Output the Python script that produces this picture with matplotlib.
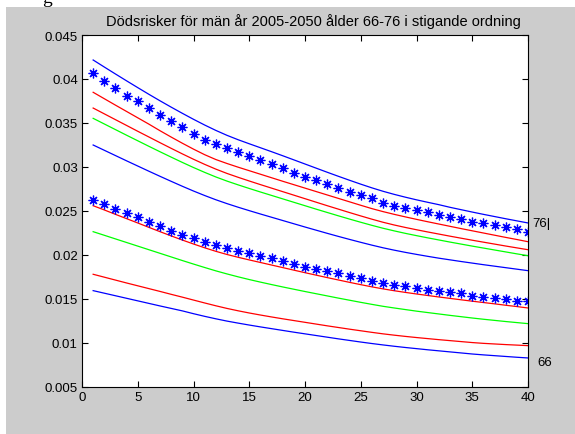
import matplotlib
matplotlib.use("Agg")
import matplotlib.pyplot as plt

# x = år-index 1..40
years = list(range(1, 41))

# ålder 66 (blå, nederst)
age66 = [0.01595, 0.01566, 0.01537, 0.01508, 0.01479, 0.01450, 0.01421, 0.01393, 0.01365, 0.01333,
         0.01303, 0.01275, 0.01249, 0.01226, 0.01204, 0.01183, 0.01163, 0.01143, 0.01123, 0.01104,
         0.01085, 0.01066, 0.01047, 0.01029, 0.01011, 0.00994, 0.00978, 0.00963, 0.00949, 0.00936,
         0.00923, 0.00911, 0.00899, 0.00887, 0.00875, 0.00865, 0.00856, 0.00847, 0.00838, 0.00830]
age67 = [0.01781, 0.01748, 0.01715, 0.01682, 0.01650, 0.01618, 0.01586, 0.01553, 0.01521, 0.01488,
         0.01455, 0.01423, 0.01393, 0.01366, 0.01341, 0.01318, 0.01296, 0.01275, 0.01255, 0.01235,
         0.01215, 0.01195, 0.01176, 0.01157, 0.01139, 0.01121, 0.01104, 0.01089, 0.01075, 0.01062,
         0.01050, 0.01038, 0.01027, 0.01016, 0.01005, 0.00996, 0.00989, 0.00982, 0.00976, 0.00970]
age68 = [0.02265, 0.02224, 0.02183, 0.02142, 0.02101, 0.02060, 0.02019, 0.01978, 0.01937, 0.01897,
         0.01858, 0.01820, 0.01785, 0.01752, 0.01721, 0.01692, 0.01664, 0.01637, 0.01611, 0.01585,
         0.01560, 0.01535, 0.01510, 0.01486, 0.01462, 0.01439, 0.01417, 0.01398, 0.01380, 0.01362,
         0.01346, 0.01330, 0.01314, 0.01299, 0.01284, 0.01270, 0.01257, 0.01244, 0.01232, 0.01220]
age69 = [0.02560, 0.02512, 0.02462, 0.02413, 0.02364, 0.02314, 0.02265, 0.02217, 0.02170, 0.02125,
         0.02082, 0.02042, 0.02006, 0.01974, 0.01944, 0.01915, 0.01886, 0.01857, 0.01828, 0.01799,
         0.01771, 0.01743, 0.01716, 0.01689, 0.01663, 0.01638, 0.01615, 0.01594, 0.01575, 0.01557,
         0.01540, 0.01523, 0.01507, 0.01491, 0.01475, 0.01460, 0.01445, 0.01429, 0.01414, 0.01398]
age70 = [0.02625, 0.02583, 0.02523, 0.02477, 0.02428, 0.02372, 0.02326, 0.02273, 0.02231, 0.02190,
         0.02144, 0.02114, 0.02076, 0.02049, 0.02020, 0.01985, 0.01962, 0.01928, 0.01901, 0.01867,
         0.01841, 0.01822, 0.01792, 0.01765, 0.01739, 0.01704, 0.01685, 0.01659, 0.01644, 0.01621,
         0.01606, 0.01594, 0.01576, 0.01565, 0.01538, 0.01523, 0.01511, 0.01500, 0.01480, 0.01474]
age71 = [0.03250, 0.03190, 0.03130, 0.03070, 0.03011, 0.02952, 0.02894, 0.02837, 0.02781, 0.02727,
         0.02676, 0.02628, 0.02584, 0.02543, 0.02504, 0.02466, 0.02429, 0.02392, 0.02355, 0.02318,
         0.02282, 0.02246, 0.02211, 0.02177, 0.02144, 0.02112, 0.02082, 0.02055, 0.02030, 0.02007,
         0.01985, 0.01964, 0.01945, 0.01926, 0.01908, 0.01890, 0.01873, 0.01856, 0.01839, 0.01822]
age72 = [0.03553, 0.03489, 0.03425, 0.03361, 0.03298, 0.03235, 0.03173, 0.03112, 0.03052, 0.02994,
         0.02939, 0.02887, 0.02840, 0.02797, 0.02756, 0.02716, 0.02677, 0.02638, 0.02599, 0.02560,
         0.02521, 0.02483, 0.02445, 0.02408, 0.02372, 0.02337, 0.02304, 0.02274, 0.02246, 0.02220,
         0.02195, 0.02171, 0.02147, 0.02124, 0.02101, 0.02079, 0.02057, 0.02035, 0.02013, 0.01992]
age73 = [0.03670, 0.03604, 0.03538, 0.03472, 0.03406, 0.03341, 0.03276, 0.03212, 0.03149, 0.03088,
         0.03030, 0.02976, 0.02927, 0.02883, 0.02841, 0.02800, 0.02760, 0.02720, 0.02680, 0.02640,
         0.02600, 0.02560, 0.02521, 0.02482, 0.02444, 0.02407, 0.02372, 0.02341, 0.02313, 0.02287,
         0.02262, 0.02238, 0.02214, 0.02191, 0.02168, 0.02146, 0.02124, 0.02102, 0.02081, 0.02060]
age74 = [0.03849, 0.03776, 0.03703, 0.03631, 0.03559, 0.03487, 0.03412, 0.03340, 0.03270, 0.03203,
         0.03140, 0.03085, 0.03040, 0.02998, 0.02958, 0.02918, 0.02878, 0.02838, 0.02799, 0.02760,
         0.02721, 0.02682, 0.02643, 0.02604, 0.02565, 0.02527, 0.02493, 0.02462, 0.02433, 0.02405,
         0.02378, 0.02352, 0.02326, 0.02300, 0.02275, 0.02250, 0.02225, 0.02200, 0.02176, 0.02151]
age75 = [0.04065, 0.03977, 0.03894, 0.03810, 0.03750, 0.03674, 0.03590, 0.03523, 0.03451, 0.03379,
         0.03310, 0.03261, 0.03216, 0.03167, 0.03122, 0.03076, 0.03030, 0.02985, 0.02935, 0.02890,
         0.02849, 0.02803, 0.02761, 0.02720, 0.02682, 0.02644, 0.02591, 0.02560, 0.02538, 0.02515,
         0.02492, 0.02455, 0.02432, 0.02409, 0.02378, 0.02360, 0.02341, 0.02314, 0.02295, 0.02265]
age76 = [0.04216, 0.04136, 0.04057, 0.03979, 0.03902, 0.03826, 0.03752, 0.03680, 0.03610, 0.03542,
         0.03477, 0.03416, 0.03360, 0.03310, 0.03264, 0.03219, 0.03174, 0.03128, 0.03081, 0.03034,
         0.02987, 0.02940, 0.02894, 0.02849, 0.02805, 0.02763, 0.02724, 0.02689, 0.02657, 0.02627,
         0.02599, 0.02572, 0.02542, 0.02515, 0.02488, 0.02462, 0.02437, 0.02412, 0.02388, 0.02364]

series = [age66, age67, age68, age69, age70, age71, age72, age73, age74, age75, age76]
styles = ['b-', 'r-', 'g-', 'r-', 'b*', 'b-', 'g-', 'r-', 'r-', 'b*', 'b-']

xticks = [0, 5, 10, 15, 20, 25, 30, 35, 40]
yticks = [0.005, 0.01, 0.015, 0.02, 0.025, 0.03, 0.035, 0.04, 0.045]
ytick_labels = ['0.005', '0.01', '0.015', '0.02', '0.025', '0.03', '0.035', '0.04', '0.045']

plt.rcParams['font.family'] = ['Liberation Sans', 'DejaVu Sans']

fig = plt.figure(figsize=(5.75, 4.35), dpi=100)
fig.patch.set_facecolor('white')
# grått fönster (matlab-figur), lite vit kant uppe och till vänster
fig.patches.append(plt.Rectangle((6 / 575, 0), 1, 1 - 8 / 435, transform=fig.transFigure,
                                 facecolor='#cccccc', edgecolor='none', zorder=-10))
# rest av en bokstav ovanför figuren (syns bara svansen)
fig.text(42 / 575, 1 - 3 / 435, 'g', fontsize=14, family='Liberation Serif', va='baseline')

ax = fig.add_axes([82 / 575, 47 / 435, 446 / 575, 352 / 435])
ax.set_facecolor('white')

green = (0.0, 1.0, 0.0)
for vals, st in zip(series, styles):
    color = {'b': 'blue', 'r': 'red', 'g': green}[st[0]]
    if st.endswith('*'):
        ax.plot(years, vals, linestyle='none', marker=(8, 2, 0), markersize=7,
                markeredgewidth=0.9, color=color)
    else:
        ax.plot(years, vals, '-', color=color, linewidth=0.9)

ax.set_xlim(0, 40)
ax.set_ylim(0.005, 0.045)
ax.set_xticks(xticks)
ax.set_yticks(yticks)
ax.set_yticklabels(ytick_labels)
ax.tick_params(direction='in', top=True, right=True, length=4, labelsize=9.5, pad=3)
for s in ax.spines.values():
    s.set_linewidth(0.8)

ax.set_title('Dödsrisker för män år 2005-2050 ålder 66-76 i stigande ordning',
             fontsize=10.5, pad=7, x=0.518)

ax.text(40.36, 0.02364, '76|', fontsize=9.5, va='center', ha='left', clip_on=False)
ax.text(40.8, 0.00784, '66', fontsize=9.5, va='center', ha='left', clip_on=False)

fig.savefig('out.png', dpi=100)
